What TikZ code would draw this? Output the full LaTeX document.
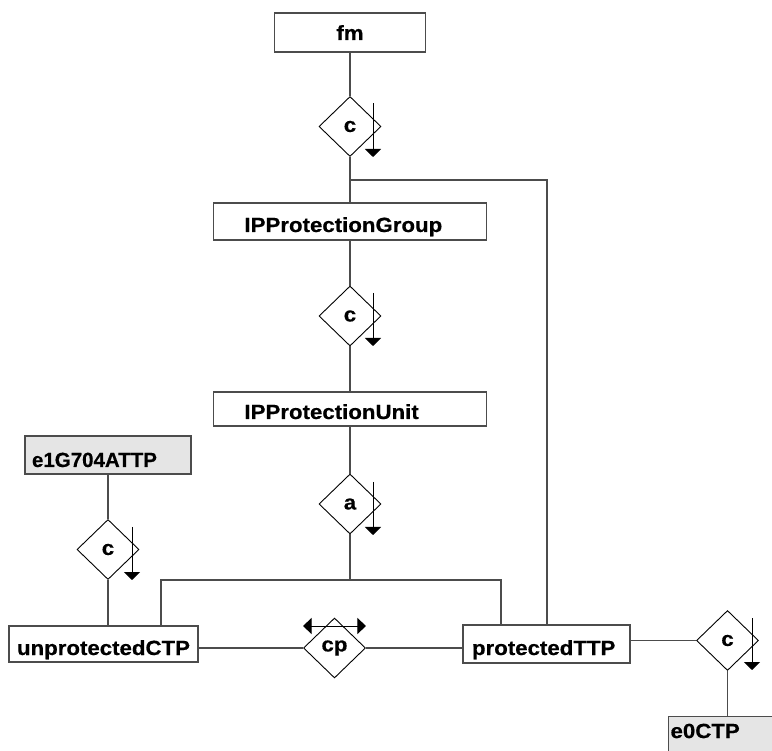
\documentclass[tikz,border=0pt]{standalone}
\usepackage{fontspec}
\newfontfamily\dfont{Liberation Sans Bold}[FakeStretch=1.085, FakeBold=0.5]
\newfontfamily\efont{Liberation Sans Bold}[FakeBold=0.5]
\usetikzlibrary{shapes.geometric,arrows.meta}
\begin{document}
\begin{tikzpicture}[x=1pt,y=-1pt,
  txt/.style={font=\dfont\fontsize{20.5}{23}\selectfont},
  lbox/.style={txt, draw=black!70, line width=1.1pt, inner ysep=0pt, align=left},
  shaded/.style={fill=black!10},
  rel/.style={txt, diamond, draw=black, line width=0.9pt, minimum width=62pt, minimum height=60pt, inner sep=0pt, fill=white},
  conn/.style={draw=black!70, line width=1.1pt},
  darrow/.style={draw=black, line width=1pt, -{Triangle[width=16pt,length=8pt]}},
  cparrow/.style={draw=black, line width=1pt, {Triangle[width=16pt,length=8.5pt]}-{Triangle[width=16pt,length=8.5pt]}}
]
\path[use as bounding box] (0,0) rectangle (772,751);
\clip (0,0) rectangle (772,751);
\fill[white] (0,0) rectangle (772,751);

% boxes
\node[lbox, minimum width=151pt, minimum height=39pt, text height=27pt, text depth=12pt, align=center] (fm) at (350,32.5) {fm};
\node[lbox, text width=211pt, inner xsep=31pt, text height=29pt, text depth=8pt] (ippg) at (350,221.5) {IPProtectionGroup};
\node[lbox, text width=211pt, inner xsep=31pt, text height=27pt, text depth=7pt] (ippu) at (350,409) {IPProtectionUnit};
\node[lbox, shaded, font=\efont\fontsize{20.5}{23}\selectfont, text width=152pt, inner xsep=7pt, text height=31pt, text depth=7pt] (e1g) at (108,455) {e1G704ATTP};
\node[lbox, text width=173pt, inner xsep=8pt, text height=29pt, text depth=7pt] (unp) at (103.5,644) {unprotectedCTP};
\node[lbox, text width=149pt, inner xsep=9pt, text height=30pt, text depth=8pt] (ptp) at (546.5,644) {protectedTTP};
\node[lbox, shaded, anchor=north west, text width=150pt, inner xsep=2pt, text height=21.5pt, text depth=40pt] (e0) at (668,716) {e0CTP};

% relationship diamonds
\node[rel] (d1) at (350,126.5) {c};
\node[rel] (d2) at (350,316) {c};
\node[rel] (d3) at (350,504) {a};
\node[rel] (d4) at (108,549.5) {c};
\node[rel] (cp) at (334.5,648) {cp};
\node[rel] (d5) at (727.5,640.5) {c};

% helper coordinates
\coordinate (j1) at (350,180);
\coordinate (j1R) at (547,180);
\coordinate (bus) at (350,580);
\coordinate (busL) at (161,580);
\coordinate (busR) at (501,580);

% connectors
\draw[conn] (fm.south) -- (d1.north);
\draw[conn] (d1.south) -- (ippg.north);
\draw[conn] (j1) -- (j1R) -- (j1R |- ptp.north);
\draw[conn] (ippg.south) -- (d2.north);
\draw[conn] (d2.south) -- (ippu.north);
\draw[conn] (ippu.south) -- (d3.north);
\draw[conn] (d3.south) -- (bus);
\draw[conn] (busL |- unp.north) -- (busL) -- (busR) -- (busR |- ptp.north);
\draw[conn] (e1g.south) -- (d4.north);
\draw[conn] (d4.south) -- (d4.south |- unp.north);
\draw[conn] (cp.west -| unp.east) -- (cp.west);
\draw[conn] (cp.east) -- (cp.east -| ptp.west);
\draw[conn] (d5.west -| ptp.east) -- (d5.west);
\draw[conn] (d5.south) -- (d5.south |- e0.north);

% direction arrows
\draw[darrow] ([xshift=23pt,yshift=23pt]d1.center) -- ([xshift=23pt,yshift=-30.5pt]d1.center);
\draw[darrow] ([xshift=23pt,yshift=23pt]d2.center) -- ([xshift=23pt,yshift=-30pt]d2.center);
\draw[darrow] ([xshift=23pt,yshift=22pt]d3.center) -- ([xshift=23pt,yshift=-31pt]d3.center);
\draw[darrow] ([xshift=24pt,yshift=22.5pt]d4.center) -- ([xshift=24pt,yshift=-30.5pt]d4.center);
\draw[darrow] ([xshift=24.5pt,yshift=22.5pt]d5.center) -- ([xshift=24.5pt,yshift=-29.5pt]d5.center);
\draw[cparrow] ([yshift=22pt]cp.west) -- ([yshift=22pt]cp.east);
\end{tikzpicture}
\end{document}
